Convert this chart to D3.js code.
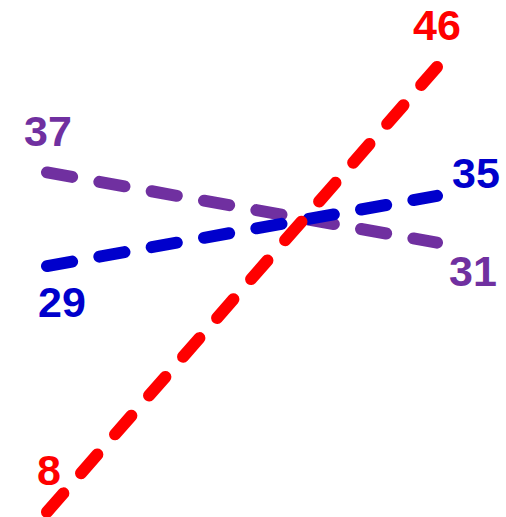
<!DOCTYPE html>
<html lang="en">
<head>
  <meta charset="UTF-8">
  <title>Slope chart</title>
  <script src="https://d3js.org/d3.v7.min.js"></script>
  <style>
    body {
      margin: 0;
      background-color: #ffffff;
    }

    .value-label {
      font-family: "Liberation Sans", Arial, sans-serif;
      font-size: 43px;
      font-weight: bold;
      text-anchor: middle;
    }
  </style>
</head>
<body>
  <svg width="506" height="517"></svg>
  <script>
    // Data
    const periods = ["start", "end"];
    const seriesNames = ["purple", "blue", "red"];
    const startValues = [37, 29, 8];
    const endValues = [31, 35, 46];

    const colors = { purple: "#7030a0", blue: "#0000cc", red: "#ff0000" };

    // label offsets (dx, dy) from the line end point
    const labelOffsets = {
      purple: [[1, -26], [36, 43]],
      blue: [[15, 51], [39, -8]],
      red: [[2, -27], [0, -27]]
    };

    const svg = d3.select("svg");

    const x = d3.scalePoint()
      .domain(periods)
      .range([47, 437]);

    const y = d3.scaleLinear()
      .domain([8, 46])
      .range([512, 67]);

    const series = seriesNames.map((name, i) => ({
      name,
      values: [startValues[i], endValues[i]]
    }));

    const line = d3.line()
      .x((d, i) => x(periods[i]))
      .y(d => y(d));

    const dash = 24, gap = 26;

    // Draw lines
    svg.selectAll(".slope")
      .data(series)
      .enter()
      .append("path")
      .attr("class", "slope")
      .attr("d", d => line(d.values))
      .attr("fill", "none")
      .attr("stroke", d => colors[d.name])
      .attr("stroke-width", 12)
      .attr("stroke-linecap", "round")
      .attr("stroke-dasharray", function () {
        // stretch the pattern a bit so both ends land on a dash
        const len = this.getTotalLength();
        const n = Math.max(1, Math.round((len - dash) / (dash + gap)));
        const k = (len - dash) / (n * (dash + gap));
        return `${dash * k},${gap * k}`;
      });

    // Value labels
    series.forEach(s => {
      s.values.forEach((v, i) => {
        const off = labelOffsets[s.name][i];
        svg.append("text")
          .attr("class", "value-label")
          .attr("x", x(periods[i]) + off[0])
          .attr("y", y(v) + off[1])
          .attr("fill", colors[s.name])
          .text(v);
      });
    });
  </script>
</body>
</html>
